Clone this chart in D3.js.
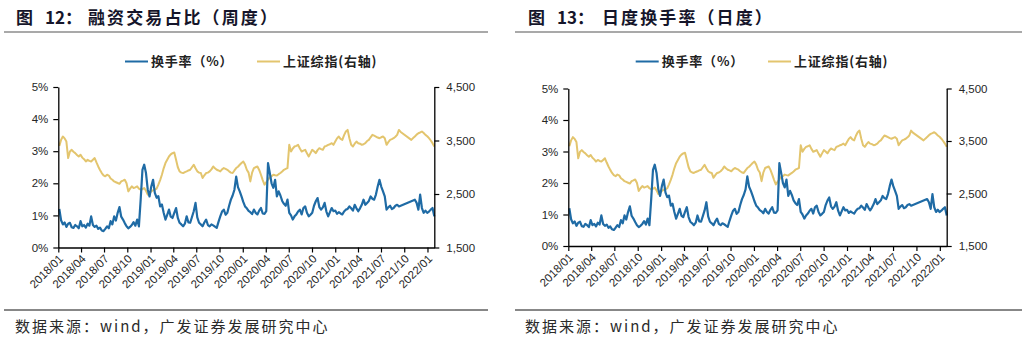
<!DOCTYPE html>
<html><head><meta charset="utf-8">
<script src="https://cdn.jsdelivr.net/npm/d3@7"></script>
<style>
body{margin:0;background:#fff;}
svg{display:block;}
</style></head><body>
<svg id="c" width="1030" height="346"></svg>
<script>
// ---------- DATA ----------
const quarterLabels = ["2018/01","2018/04","2018/07","2018/10","2019/01","2019/04","2019/07","2019/10",
  "2020/01","2020/04","2020/07","2020/10","2021/01","2021/04","2021/07","2021/10","2022/01"];
const firstWeek = "2018-01-05"; // weekly observations (Fridays)
// turnover rate (%), one value per week; null = no observation
const turnover = [
 1.20,0.85,0.72,0.78,0.64,0.74,0.77,0.63,0.61,0.70,
 0.66,0.60,0.82,0.66,0.70,0.62,0.74,0.68,0.97,0.70,
 0.64,0.68,0.58,0.62,0.53,0.51,0.58,0.66,0.60,0.82,
 0.72,0.97,0.84,1.08,1.26,0.96,0.87,0.76,0.66,0.60,
 0.64,0.70,0.79,0.68,0.87,0.66,1.49,2.42,2.58,2.32,
 1.80,1.59,1.90,2.11,1.70,1.55,1.60,1.28,1.34,1.08,
 0.87,1.02,1.18,0.96,0.92,1.08,1.23,0.92,0.77,0.72,
 0.66,0.74,0.97,0.78,0.77,0.95,1.13,1.39,0.94,0.77,
 0.72,0.66,0.78,0.87,0.70,0.66,0.72,0.69,0.65,0.61,
 0.80,0.97,1.12,1.18,1.02,1.08,1.30,1.49,1.62,1.80,
 2.21,1.88,1.75,1.59,1.42,1.28,1.22,1.14,1.10,1.04,
 1.18,1.08,1.03,1.15,1.23,1.06,1.05,1.13,2.63,2.32,
 2.00,1.86,2.11,1.59,1.75,1.62,1.45,1.36,1.30,1.49,
 1.08,1.00,0.87,0.97,1.03,1.12,1.18,1.03,1.23,1.28,
 1.08,0.97,1.02,1.08,1.30,1.44,1.54,1.26,1.18,1.25,
 1.39,1.12,0.97,1.10,1.23,1.13,1.15,1.05,1.10,1.06,
 1.03,1.12,1.18,1.20,1.28,1.22,1.15,1.33,1.22,1.13,
 1.22,1.33,1.49,1.33,1.39,1.45,1.59,1.52,1.49,1.65,
 1.90,2.11,1.90,1.75,1.59,1.18,1.25,1.30,1.20,1.23,
 1.30,1.33,1.28,null,null,null,null,null,null,null,
 null,1.49,1.39,1.18,1.65,1.23,1.08,1.15,1.08,1.12,
 1.18,1.23,0.97];
// Shanghai Composite (right axis), one value per week
const sseIndex = [
 3400,3512,3574,3540,3480,3171,3294,3326,3290,3264,
 3230,3201,3233,3180,3150,3108,3139,3120,3108,3140,
 3171,3090,3015,2950,2892,2850,2830,2860,2845,2790,
 2767,2735,2720,2705,2690,2735,2750,2767,2700,2549,
 2600,2642,2612,2625,2642,2600,2580,2590,2612,2560,
 2487,2510,2549,2570,2580,2600,2674,2760,2860,2980,
 3078,3140,3201,3240,3264,3276,3139,3000,2921,2900,
 2892,2910,2923,2940,2953,3000,3046,2980,2923,2900,
 2892,2799,2850,2892,2900,2923,2960,3015,2980,2953,
 2940,2923,2960,2985,2970,2953,2923,2900,2892,2940,
 2985,3010,3046,3080,3108,3050,2953,2900,2735,2900,
 2985,3000,3015,2950,2860,2760,2674,2720,2767,2810,
 2830,2860,2850,2845,2870,2892,2920,2953,2970,2985,
 3419,3294,3350,3388,3400,3419,3350,3294,3310,3326,
 3260,3201,3264,3326,3300,3264,3320,3357,3340,3326,
 3388,3400,3419,3430,3450,3419,3480,3540,3574,3530,
 3512,3600,3667,3698,3543,3420,3388,3440,3480,3450,
 3440,3419,3430,3450,3490,3512,3560,3605,3590,3574,
 3555,3543,3560,3574,3543,3419,3470,3512,3525,3543,
 3570,3605,3698,3660,null,null,null,null,null,3512,
 3545,3574,3610,3636,3650,3667,3640,3605,3580,3543,
 3500,3450,3388];
const leftTicks = [0,1,2,3,4,5];
const rightTicks = [1500,2500,3500,4500];
const seriesNames = ["换手率（%）","上证综指(右轴)"];
const panelTitles = [
  {num:"12：", text:"融资交易占比（周度）"},
  {num:"13：", text:"日度换手率（日度）"}
];
const sourceText = "数据来源：wind，广发证券发展研究中心";

// ---------- LAYOUT ----------
const colors = {blue:"#1F6BA5", gold:"#E3C56E"};
const layout = [
  {x0:58.3, x1:434.3, yT:87, yB:247.5, tFig:16, tNum:45, tText:88, ruleA:4, ruleB:488,
   lg1:125, lg2:257, src:15},
  {x0:568.3, x1:946.7, yT:88.5, yB:246, tFig:528, tNum:557, tText:602, ruleA:515, ruleB:1022,
   lg1:635.7, lg2:768, src:525}
];

const parse = d3.timeParse("%Y-%m-%d");
const start = parse(firstWeek);
const weeks = turnover.map((_, i) => d3.timeDay.offset(start, 7*i));
const tickDates = quarterLabels.map(d3.timeParse("%Y/%m"));
const svg = d3.select("#c");
const latin = "'Liberation Sans', Arial, sans-serif";
const cjk = "'Noto Sans CJK SC', 'Liberation Sans', sans-serif";

layout.forEach((L, p) => {
  const g = svg.append("g");
  // title
  g.append("text").attr("x", L.tFig).attr("y", 24).attr("font-family", cjk).attr("font-weight","bold")
    .attr("font-size",17).attr("fill","#15152a").text("图");
  g.append("text").attr("x", L.tNum).attr("y", 24).attr("font-family", cjk).attr("font-weight","bold")
    .attr("font-size",17).attr("fill","#15152a").text(panelTitles[p].num);
  g.append("text").attr("x", L.tText).attr("y", 24).attr("font-family", cjk).attr("font-weight","bold")
    .attr("font-size",17).attr("letter-spacing", 2.1).attr("fill","#15152a").text(panelTitles[p].text);
  g.append("line").attr("x1", L.ruleA).attr("x2", L.ruleB).attr("y1", 32).attr("y2", 32)
    .attr("stroke", "#8c8c8c").attr("stroke-width", 1.5);

  // legend
  [[L.lg1, colors.blue, seriesNames[0]], [L.lg2, colors.gold, seriesNames[1]]].forEach(([lx, c, name]) => {
    g.append("line").attr("x1", lx).attr("x2", lx + 23).attr("y1", 61.5).attr("y2", 61.5)
      .attr("stroke", c).attr("stroke-width", 2);
    g.append("text").attr("x", lx + 26).attr("y", 66).attr("font-family", cjk).attr("font-weight", "bold")
      .attr("font-size", 13).attr("letter-spacing", 0.8).attr("fill", "#222").text(name);
  });

  // scales
  const x = d3.scaleTime().domain([parse("2018-01-01"), weeks[weeks.length - 1]]).range([L.x0, L.x1]);
  const yL = d3.scaleLinear().domain([0, 5]).range([L.yB, L.yT]);
  const yR = d3.scaleLinear().domain([1500, 4500]).range([L.yB, L.yT]);

  // lines
  const goldData = weeks.map((d, i) => ({d, v: sseIndex[i]})).filter(o => o.v != null);
  const blueData = weeks.map((d, i) => ({d, v: turnover[i]})).filter(o => o.v != null);
  g.append("path").datum(goldData).attr("fill", "none").attr("stroke", colors.gold)
    .attr("stroke-width", 2).attr("stroke-linejoin", "round")
    .attr("d", d3.line().x(o => x(o.d)).y(o => yR(o.v)));
  g.append("path").datum(blueData).attr("fill", "none").attr("stroke", colors.blue)
    .attr("stroke-width", 2.2).attr("stroke-linejoin", "round")
    .attr("d", d3.line().x(o => x(o.d)).y(o => yL(o.v)));

  // axes
  const axL = g.append("g").attr("transform", `translate(${L.x0},0)`)
    .call(d3.axisLeft(yL).tickValues(leftTicks).tickFormat(d => d + "%").tickSize(5).tickPadding(5).tickSizeOuter(0));
  const axR = g.append("g").attr("transform", `translate(${L.x1},0)`)
    .call(d3.axisRight(yR).tickValues(rightTicks).tickFormat(d3.format(",")).tickSize(5).tickPadding(7).tickSizeOuter(0));
  const axB = g.append("g").attr("transform", `translate(0,${L.yB})`)
    .call(d3.axisBottom(x).tickValues(tickDates).tickFormat(d3.timeFormat("%Y/%m")).tickSize(5).tickSizeOuter(0));
  axB.selectAll("text").attr("text-anchor", "end").attr("dy", null).attr("y", null)
    .attr("transform", "translate(5,12) rotate(-45)");
  [axL, axR, axB].forEach(a => {
    a.select(".domain").attr("stroke", "#000").attr("stroke-width", 1.3);
    a.selectAll(".tick line").attr("stroke", "#000").attr("stroke-width", 1.2);
    a.selectAll("text").attr("font-family", latin).attr("font-size", 11.5).attr("fill", "#262626");
  });

  // source
  g.append("line").attr("x1", L.ruleA).attr("x2", L.ruleB).attr("y1", 310).attr("y2", 310)
    .attr("stroke", "#111").attr("stroke-width", 1);
  g.append("text").attr("x", L.src).attr("y", 332).attr("font-family", cjk).attr("font-size", 15)
    .attr("letter-spacing", 2).attr("fill", "#2a2a2a").text(sourceText);
});
</script>
</body></html>
